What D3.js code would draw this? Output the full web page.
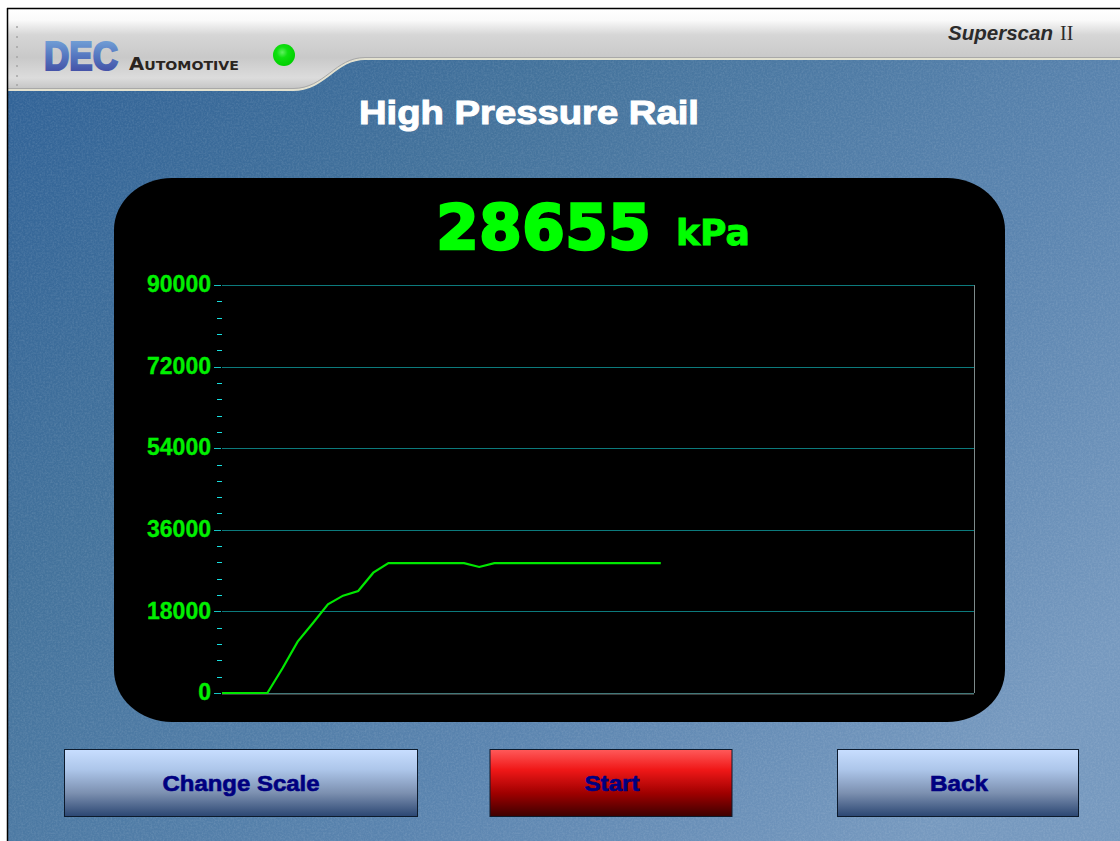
<!DOCTYPE html>
<html>
<head>
<meta charset="utf-8">
<title>High Pressure Rail</title>
<script src="https://d3js.org/d3.v7.min.js"></script>
<style>
    html, body { margin: 0; padding: 0; background: #fff; overflow: hidden; }
    svg { display: block; }
    text { font-family: "Liberation Sans", Arial, sans-serif; }
</style>
</head>
<body>
<div id="screen"></div>
<script>
// values
const sample_index = [0, 1, 2, 3, 4, 5, 6, 7, 8, 9, 10, 11, 12, 13, 14, 15, 16, 17, 18, 19, 20, 21, 22, 23, 24, 25, 26, 27, 28, 29];
const rail_pressure = [0, 0, 0, 0, 5450, 11330, 15370, 19560, 21470, 22500, 26540, 28655, 28655, 28655, 28655, 28655, 28655, 27800, 28655, 28655, 28655, 28655, 28655, 28655, 28655, 28655, 28655, 28655, 28655, 28655];
const major_ticks = [0, 18000, 36000, 54000, 72000, 90000];
const minor_ticks = [3600, 7200, 10800, 14400, 21600, 25200, 28800, 32400, 39600, 43200, 46800, 50400, 57600, 61200, 64800, 68400, 75600, 79200, 82800, 86400];
const current_reading = '28655';
const unit_label = 'kPa';
const title_text = 'High Pressure Rail';
const button_labels = ['Change Scale', 'Start', 'Back'];

const width = 1120;
const height = 841;

const svg = d3.select('#screen').append('svg')
    .attr('width', width)
    .attr('height', height);

const defs = svg.append('defs');

function add_gradient(id, stops, x2, y2) {
    const g = defs.append('linearGradient').attr('id', id)
        .attr('x1', 0).attr('y1', 0).attr('x2', x2).attr('y2', y2);
    stops.forEach(s => g.append('stop').attr('offset', s[0]).attr('stop-color', s[1]));
}

add_gradient('bg_grad', [[0, '#2f6197'], [0.35, '#44739c'], [0.7, '#5a84af'], [1, '#7699bf']], 1, 0.75);
add_gradient('head_grad', [[0, '#ffffff'], [0.14, '#fafafa'], [0.32, '#d6d6d6'], [0.6, '#c9c9c9'], [0.85, '#dcdcdc'], [1, '#c2c2c2']], 0, 1);
add_gradient('btn_blue', [[0, '#c8deff'], [0.3, '#adc6ea'], [0.65, '#7c90b0'], [1, '#2b4672']], 0, 1);
add_gradient('btn_red', [[0, '#ff5a5a'], [0.3, '#f01818'], [0.65, '#a00000'], [1, '#3c0000']], 0, 1);
add_gradient('logo_grad', [[0, '#7fb2e0'], [0.5, '#5577c0'], [1, '#3c3f9a']], 0, 1);

const led = defs.append('radialGradient').attr('id', 'led_grad')
    .attr('cx', 0.42).attr('cy', 0.38).attr('r', 0.62);
led.append('stop').attr('offset', 0).attr('stop-color', '#60f060');
led.append('stop').attr('offset', 0.4).attr('stop-color', '#10e010');
led.append('stop').attr('offset', 1).attr('stop-color', '#00d000');

// grainy paper look on the backdrop
const grain = defs.append('filter').attr('id', 'grain')
    .attr('x', 0).attr('y', 0).attr('width', '100%').attr('height', '100%');
grain.append('feTurbulence').attr('type', 'fractalNoise').attr('baseFrequency', 0.55).attr('numOctaves', 2).attr('seed', 4);
grain.append('feColorMatrix').attr('type', 'matrix')
    .attr('values', '0 0 0 0 1  0 0 0 0 1  0 0 0 0 1  0.9 0 0 0 -0.32');

// backdrop and frame
svg.append('rect').attr('x', 8).attr('y', 9).attr('width', width - 8).attr('height', height - 9).attr('fill', 'url(#bg_grad)');
svg.append('rect').attr('x', 8).attr('y', 9).attr('width', width - 8).attr('height', height - 9).attr('filter', 'url(#grain)').attr('opacity', 0.22);

// silver header
const header_shape = 'M8,9 L1120,9 L1120,59 L365,59 C335,59 325,90 293,90 L8,90 Z';
svg.append('path').attr('d', header_shape).attr('fill', 'url(#head_grad)');
svg.append('path').attr('d', 'M1120,59 L365,59 C335,59 325,90 293,90 L8,90')
    .attr('fill', 'none').attr('stroke', '#e4e2d0').attr('stroke-width', 2);
svg.append('path').attr('d', 'M1120,57.5 L365,57.5 C335,57.5 325,88.5 293,88.5 L8,88.5')
    .attr('fill', 'none').attr('stroke', '#a9a9a9').attr('stroke-width', 1);

svg.append('line').attr('x1', 7.5).attr('y1', 8).attr('x2', 7.5).attr('y2', height).attr('stroke', '#000').attr('stroke-width', 1.5);
svg.append('line').attr('x1', 7).attr('y1', 8.5).attr('x2', width).attr('y2', 8.5).attr('stroke', '#000').attr('stroke-width', 1.5);

svg.selectAll('.dot').data([27, 37, 47, 57, 66, 76, 85]).enter().append('circle')
    .attr('class', 'dot').attr('cx', 17).attr('cy', d => d).attr('r', 1).attr('fill', '#a4a4a4');

svg.append('text').attr('x', 44).attr('y', 70)
    .attr('font-size', 41).attr('font-weight', 'bold')
    .attr('textLength', 74).attr('lengthAdjust', 'spacingAndGlyphs')
    .attr('fill', 'url(#logo_grad)').attr('stroke', 'url(#logo_grad)').attr('stroke-width', 2.2)
    .text('DEC');
svg.append('text').attr('x', 129).attr('y', 70)
    .style('font-family', '"DejaVu Sans", sans-serif')
    .attr('font-size', 18).attr('font-weight', 'bold')
    .attr('textLength', 110).attr('lengthAdjust', 'spacingAndGlyphs')
    .attr('fill', '#2a2420').style('font-variant', 'small-caps').text('Automotive');

svg.append('circle').attr('cx', 284).attr('cy', 55).attr('r', 11).attr('fill', 'url(#led_grad)');

svg.append('text').attr('x', 948).attr('y', 40)
    .attr('font-size', 21).attr('font-style', 'italic').attr('font-weight', 'bold').attr('fill', '#2b2b2b')
    .attr('textLength', 105).attr('lengthAdjust', 'spacingAndGlyphs')
    .text('Superscan');
svg.append('text').attr('x', 1060).attr('y', 40)
    .style('font-family', '"Liberation Serif", serif')
    .attr('font-size', 20).attr('fill', '#2b2b2b').text('II');

svg.append('text').attr('x', 359).attr('y', 124)
    .attr('font-size', 33).attr('font-weight', 'bold').attr('fill', '#fff')
    .attr('stroke', '#fff').attr('stroke-width', 1)
    .attr('textLength', 340).attr('lengthAdjust', 'spacingAndGlyphs').text(title_text);

// black panel
svg.append('rect').attr('x', 114).attr('y', 178).attr('width', 891).attr('height', 544).attr('rx', 58).attr('ry', 52).attr('fill', '#000');

svg.append('text').attr('x', 436).attr('y', 249)
    .style('font-family', '"DejaVu Sans", sans-serif')
    .attr('font-size', 63).attr('font-weight', 'bold').attr('fill', '#00ff00')
    .attr('stroke', '#00ff00').attr('stroke-width', 2.4)
    .attr('textLength', 215).attr('lengthAdjust', 'spacingAndGlyphs')
    .text(current_reading);
svg.append('text').attr('x', 676).attr('y', 245)
    .style('font-family', '"DejaVu Sans", sans-serif')
    .attr('font-size', 35).attr('font-weight', 'bold').attr('fill', '#00ff00')
    .attr('stroke', '#00ff00').attr('stroke-width', 0.8)
    .attr('textLength', 74).attr('lengthAdjust', 'spacingAndGlyphs')
    .text(unit_label);

// scales
const x_scale = d3.scaleLinear().domain([0, 49.7]).range([222, 974]);
const y_scale = d3.scaleLinear().domain([0, 90000]).range([693, 285]);

// frame of the plot
svg.append('line').attr('x1', 974.5).attr('x2', 974.5).attr('y1', y_scale(90000)).attr('y2', y_scale(0)).attr('stroke', '#7d8a8a');

// gridlines
svg.append('g')
    .attr('transform', 'translate(222, 0)')
    .call(d3.axisRight(y_scale).tickValues(major_ticks).tickSize(752).tickFormat(''))
    .call(g => g.select('.domain').remove())
    .selectAll('line').attr('stroke', '#0c7a7c').attr('stroke-width', 1).attr('shape-rendering', 'crispEdges');

svg.append('line').attr('x1', 222).attr('x2', 974).attr('y1', y_scale(0) + 1).attr('y2', y_scale(0) + 1).attr('stroke', '#777');

// major ticks with labels
const y_axis = svg.append('g')
    .attr('transform', 'translate(221, 0)')
    .call(d3.axisLeft(y_scale).tickValues(major_ticks).tickSize(7).tickPadding(3).tickFormat(d3.format('d')));
y_axis.select('.domain').remove();
y_axis.selectAll('line').attr('stroke', '#14c4c4').attr('shape-rendering', 'crispEdges');
y_axis.selectAll('text')
    .attr('font-family', '"Liberation Sans", Arial, sans-serif')
    .attr('font-size', 23).attr('font-weight', 'bold').attr('fill', '#00f000')
    .attr('stroke', '#00f000').attr('stroke-width', 0.3)
    .attr('dy', '0.29em');

// minor ticks
const y_minor = svg.append('g')
    .attr('transform', 'translate(222, 0)')
    .call(d3.axisLeft(y_scale).tickValues(minor_ticks).tickSize(5).tickFormat(''));
y_minor.select('.domain').remove();
y_minor.selectAll('line').attr('stroke', '#18e0e0').attr('shape-rendering', 'crispEdges');

// the trace
const trace = d3.line()
    .x((d, i) => x_scale(sample_index[i]))
    .y(d => y_scale(d));

svg.append('path')
    .datum(rail_pressure)
    .attr('d', trace)
    .attr('fill', 'none')
    .attr('stroke', '#00e800')
    .attr('stroke-width', 2.2);

// buttons
const button_x = d3.scaleOrdinal().domain(button_labels).range([64.5, 490, 837.5]);
const button_w = d3.scaleOrdinal().domain(button_labels).range([353, 242, 241]);
const label_w = d3.scaleOrdinal().domain(button_labels).range([157, 55, 58]);

const buttons = svg.selectAll('.button').data(button_labels).enter().append('g').attr('class', 'button');
buttons.append('rect')
    .attr('x', d => button_x(d)).attr('y', 749.5)
    .attr('width', d => button_w(d)).attr('height', 67)
    .attr('fill', d => d === 'Start' ? 'url(#btn_red)' : 'url(#btn_blue)')
    .attr('stroke', '#0c1a2c').attr('stroke-width', 1);
buttons.append('text')
    .attr('x', d => button_x(d) + button_w(d) / 2 + (d === 'Change Scale' ? 0 : 1)).attr('y', 791)
    .attr('text-anchor', 'middle')
    .attr('font-size', 22).attr('font-weight', 'bold').attr('fill', '#000080')
    .attr('stroke', '#000080').attr('stroke-width', 0.6)
    .attr('textLength', d => label_w(d)).attr('lengthAdjust', 'spacingAndGlyphs')
    .text(d => d);
</script>
</body>
</html>
